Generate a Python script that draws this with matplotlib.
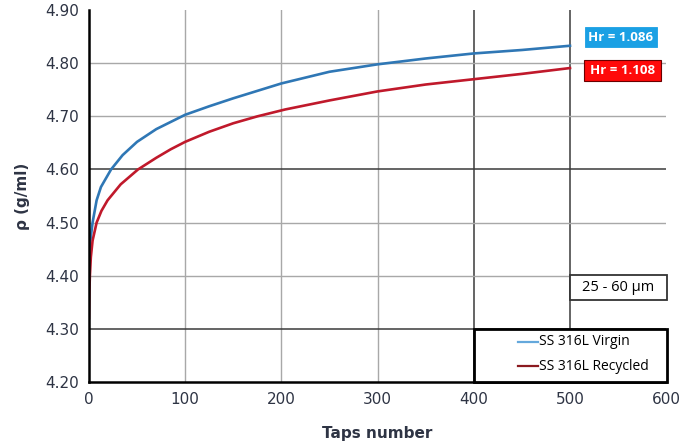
import matplotlib
matplotlib.use("Agg")
import matplotlib.pyplot as plt
from matplotlib.patches import Rectangle

# Tap density curves (taps vs. apparent density)
taps_virgin = [0, 0.5, 1.5, 3.8, 8, 12.5, 23, 35, 50, 70, 100, 125, 150, 175,
               200, 250, 300, 350, 400, 450, 500]
rho_virgin = [4.43, 4.45, 4.466, 4.50, 4.542, 4.567, 4.60, 4.627, 4.652,
              4.676, 4.703, 4.719, 4.734, 4.748, 4.762, 4.784, 4.798, 4.809,
              4.8185, 4.825, 4.833]

taps_recycled = [0, 0.5, 1, 2, 3.8, 8, 13, 19.4, 33, 51, 70, 85, 100, 125,
                 150, 175, 204, 250, 300, 350, 400, 450, 500]
rho_recycled = [4.32, 4.37, 4.40, 4.435, 4.466, 4.50, 4.522, 4.542, 4.572,
                4.600, 4.622, 4.638, 4.652, 4.671, 4.687, 4.700, 4.713, 4.730,
                4.747, 4.760, 4.770, 4.780, 4.791]

series_names = ["SS 316L Virgin", "SS 316L Recycled"]
hr_labels = ["Hr = 1.086", "Hr = 1.108"]
size_label = "25 - 60 \u00b5m"

x_ticks = [0, 100, 200, 300, 400, 500, 600]
y_ticks = [4.20, 4.30, 4.40, 4.50, 4.60, 4.70, 4.80, 4.90]

blue = "#2f77b5"
red = "#c0192b"
tick_color = "#2e3444"

fig = plt.figure(figsize=(6.84, 4.42), dpi=100)
ax = fig.add_axes([0.130, 0.136, 0.844, 0.841])
ax.set_xlim(0, 600)
ax.set_ylim(4.20, 4.90)

# Gridlines (a few drawn darker)
light_grid = "#a8a8a8"
dark_grid = "#3a3a3a"
for x in [100, 200, 300]:
    ax.axvline(x, color=light_grid, lw=1.0, zorder=0)
for x in [400, 500]:
    ax.axvline(x, color=dark_grid, lw=1.1, zorder=0)
for y in [4.40, 4.50, 4.70, 4.80]:
    ax.axhline(y, color=light_grid, lw=1.0, zorder=0)
for y in [4.30, 4.60]:
    ax.axhline(y, color=dark_grid, lw=1.1, zorder=0)

ax.plot(taps_virgin, rho_virgin, color=blue, lw=1.9, zorder=3,
        solid_joinstyle="round")
ax.plot(taps_recycled, rho_recycled, color=red, lw=1.9, zorder=3,
        solid_joinstyle="round")

for s in ["top", "right"]:
    ax.spines[s].set_visible(False)
for s in ["left", "bottom"]:
    ax.spines[s].set_color("black")
    ax.spines[s].set_linewidth(1.8)
    ax.spines[s].set_zorder(4)

ax.set_xticks(x_ticks)
ax.set_yticks(y_ticks)
ax.set_xticklabels([str(v) for v in x_ticks])
ax.set_yticklabels([f"{v:.2f}" for v in y_ticks])
ax.tick_params(length=0, labelsize=11, colors=tick_color, pad=7)

ax.set_xlabel("Taps number", fontsize=11, fontweight="bold",
              color=tick_color, labelpad=14)
ax.set_ylabel("\u03c1 (g/ml)", fontsize=11, fontweight="bold",
              color=tick_color, labelpad=11)

# Hr value tags
tag_font = dict(family="Open Sans", fontsize=9.5, fontweight="bold",
                color="white", ha="center", va="center", zorder=6)
ax.add_patch(Rectangle((515.5, 4.830), 75, 0.038, fc="#1aa0e4",
                       ec="#1aa0e4", lw=0.6, zorder=5, clip_on=False))
ax.text(553, 4.849, hr_labels[0], **tag_font)
ax.add_patch(Rectangle((514.5, 4.766), 80, 0.040, fc="#ff0a0a",
                       ec="#6a0000", lw=0.8, zorder=5, clip_on=False))
ax.text(554.5, 4.786, hr_labels[1], **tag_font)

# Particle size box
ax.add_patch(Rectangle((500, 4.355), 101, 0.047, fc="white", ec="#333333",
                       lw=1.3, zorder=5, clip_on=False))
ax.text(550.5, 4.378, size_label, family="Open Sans", fontsize=10.5,
        color="black", ha="center", va="center", zorder=6)

# Legend box
ax.add_patch(Rectangle((400, 4.20), 201, 0.10, fc="white", ec="black",
                       lw=2.0, zorder=5, clip_on=False))
legend_colors = ["#64a8dc", "#8b1a1f"]
legend_y = [4.276, 4.229]
for name, col, yy in zip(series_names, legend_colors, legend_y):
    ax.plot([446, 467], [yy, yy], color=col, lw=1.6, zorder=6)
    ax.text(467.5, yy, name, family="Open Sans", fontsize=10,
            color="black", ha="left", va="center", zorder=6)

fig.savefig("out.png", dpi=100)
